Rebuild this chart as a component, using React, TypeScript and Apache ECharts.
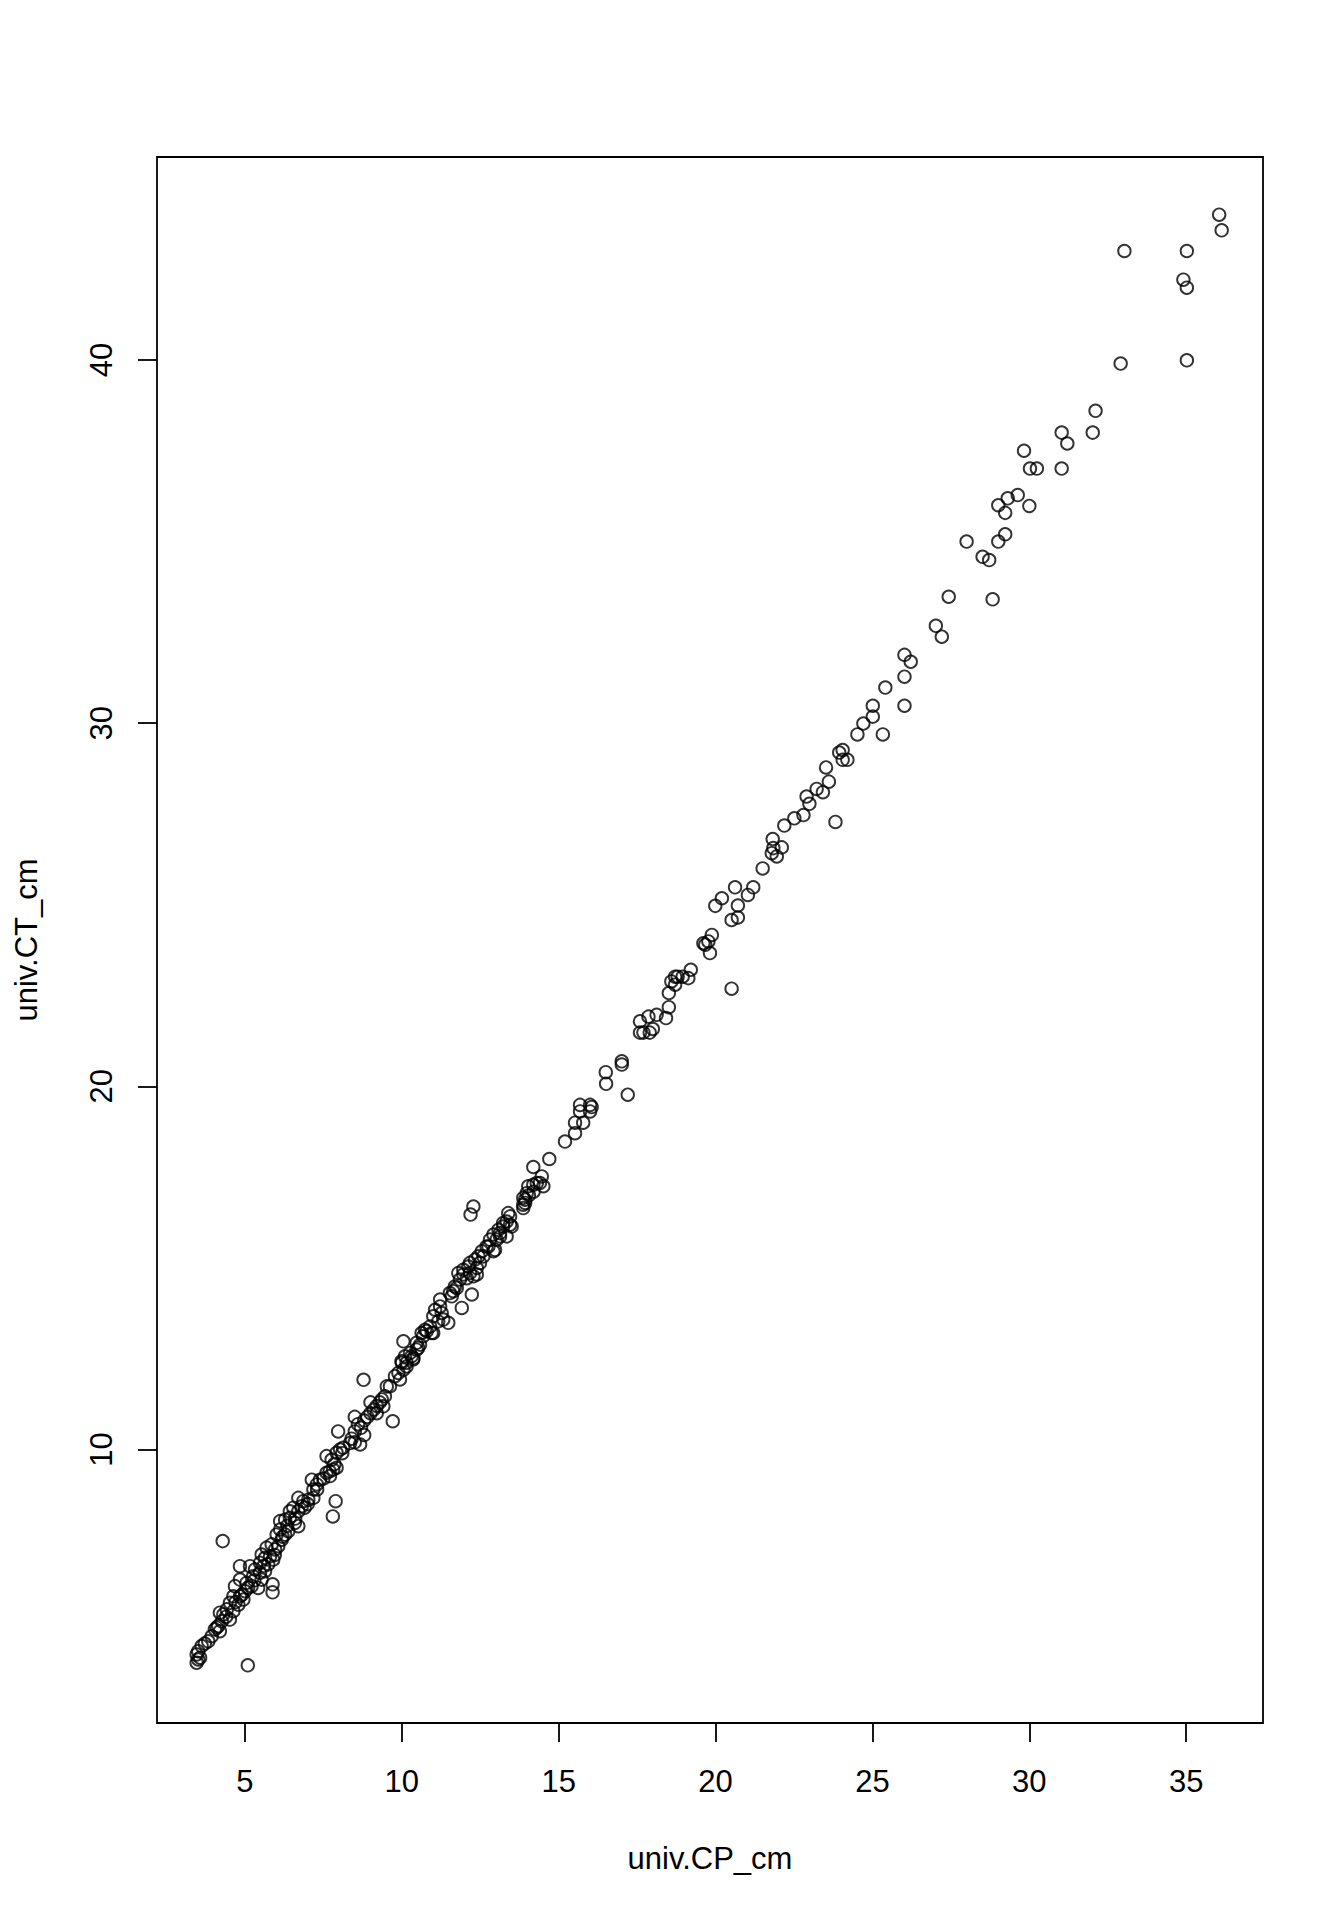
import { useEffect, useRef } from 'react';
import * as echarts from 'echarts';

// univ.CP_cm (x) and univ.CT_cm (y) in segments along the diagonal
const cpLow = [3.46, 3.51, 3.46, 3.51, 3.57, 3.62, 3.72, 3.83, 3.94, 4.04, 4.15, 4.2, 4.2, 4.26, 4.31, 4.42, 4.52, 4.63, 4.52, 4.63, 4.79, 4.84, 4.95, 4.68, 4.84, 5.0, 5.05, 5.21, 5.42, 5.26, 5.32, 5.48, 5.53, 5.64, 4.84, 5.16, 5.48, 5.53, 5.64, 5.74, 5.8, 5.9, 5.69, 5.85, 5.96, 6.06, 6.01, 6.12, 6.17, 6.28, 6.38, 6.12, 6.28, 6.43, 6.59, 6.7, 6.43, 6.54, 6.7, 6.81, 6.7, 6.86, 7.02, 7.18, 7.13, 7.18, 7.29, 7.39, 7.6, 7.71, 7.81, 7.92, 7.6, 7.76, 7.92, 8.03, 8.13, 8.35, 8.67];
const ctLow = [4.13, 4.22, 4.36, 4.45, 4.27, 4.59, 4.66, 4.72, 4.86, 5.05, 5.14, 5.0, 5.51, 5.27, 5.46, 5.6, 5.32, 5.55, 5.78, 5.96, 5.73, 5.96, 5.87, 6.24, 6.42, 6.1, 6.33, 6.24, 6.19, 6.51, 6.7, 6.61, 6.42, 6.65, 6.79, 6.79, 6.88, 7.11, 7.02, 6.84, 7.06, 6.97, 7.3, 7.39, 7.25, 7.34, 7.66, 7.8, 7.52, 7.66, 7.75, 8.03, 8.07, 8.12, 7.98, 7.89, 8.3, 8.4, 8.3, 8.44, 8.67, 8.58, 8.62, 8.67, 9.17, 8.9, 9.04, 9.17, 9.36, 9.27, 9.45, 9.5, 9.82, 9.72, 9.91, 10.0, 10.05, 10.18, 10.14];

const cpLowExtra = [4.1, 4.4, 4.7, 4.9, 5.1, 5.3, 5.6, 5.95, 6.2, 6.35, 6.6, 6.9, 7.0, 7.3, 7.5, 7.7, 7.85, 8.1, 4.29, 5.09, 5.88, 5.88, 7.89, 7.8, 7.97];
const ctLowExtra = [5.1, 5.4, 5.8, 6.0, 6.2, 6.4, 6.8, 7.1, 7.6, 7.9, 8.1, 8.4, 8.5, 8.9, 9.2, 9.4, 9.6, 9.9, 7.48, 4.06, 6.29, 6.07, 8.58, 8.16, 10.5];

const cpMid = [8.4, 8.5, 8.6, 8.5, 8.7, 8.8, 8.9, 9.0, 9.1, 9.2, 9.3, 9.0, 8.5, 8.8, 9.2, 8.78, 9.71, 9.41, 9.46, 9.36, 9.52, 9.62, 9.78, 9.89, 10.05, 9.94, 10.15, 9.99, 10.1, 10.26, 10.37, 10.47, 10.58, 10.05, 10.0, 10.15, 10.36, 10.31, 10.52, 10.47];
const ctMid = [10.3, 10.5, 10.7, 10.9, 10.6, 10.8, 10.9, 11.0, 11.1, 11.2, 11.3, 11.3, 10.2, 10.4, 11.0, 11.92, 10.78, 11.19, 11.47, 11.38, 11.74, 11.74, 12.02, 12.11, 12.2, 11.93, 12.29, 12.43, 12.57, 12.66, 12.52, 12.75, 12.89, 12.98, 12.39, 12.39, 12.48, 12.57, 12.8, 12.94];

const cpUpperMid = [10.68, 10.79, 10.9, 11.0, 10.63, 10.74, 10.95, 11.16, 11.0, 11.22, 11.06, 11.48, 11.22, 11.27, 11.32, 11.91, 11.53, 11.69, 11.85, 11.8, 11.96, 12.12, 12.23, 11.64, 11.59, 11.75, 12.07, 11.96, 12.28, 12.17, 12.17, 12.33, 12.44, 12.55, 12.39, 12.39, 12.49, 12.6, 12.7, 12.81, 12.92, 13.08, 12.97, 13.13, 12.76, 12.92, 13.02, 13.34, 13.13, 13.23, 13.34, 13.45, 13.5, 13.39, 13.45, 13.23, 12.28, 12.19];
const ctUpperMid = [13.12, 13.26, 13.39, 13.21, 13.21, 13.3, 13.21, 13.53, 13.67, 13.94, 13.85, 13.49, 14.13, 13.76, 13.58, 13.9, 14.31, 14.49, 14.68, 14.86, 14.95, 15.04, 14.27, 14.36, 14.22, 14.45, 14.72, 14.82, 14.77, 14.86, 15.14, 15.23, 15.32, 15.46, 14.82, 15.0, 15.14, 15.32, 15.59, 15.78, 15.92, 16.05, 15.5, 15.87, 15.59, 15.46, 15.78, 15.87, 15.96, 16.14, 16.28, 16.42, 16.14, 16.51, 16.19, 16.24, 16.69, 16.47];

const cpCenter = [13.87, 13.93, 13.98, 14.03, 14.19, 14.4, 14.51, 13.87, 13.93, 13.87, 14.05, 14.2, 14.46, 14.3, 14.19, 14.7, 15.2, 15.52, 15.78, 15.52, 15.68, 16.0, 15.68, 16.0, 16.05, 16.51, 16.5, 17.01, 17.01, 17.2];
const ctCenter = [16.74, 16.88, 17.06, 17.25, 17.29, 17.34, 17.25, 16.93, 16.79, 16.65, 17.0, 17.1, 17.52, 17.34, 17.78, 18.0, 18.48, 19.0, 19.0, 18.71, 19.49, 19.49, 19.31, 19.31, 19.43, 20.07, 20.39, 20.69, 20.6, 19.77];

const cpHighMid = [17.59, 17.59, 17.7, 17.9, 17.86, 18.0, 18.12, 18.42, 18.51, 18.51, 18.59, 18.71, 18.79, 18.95, 18.71, 19.21, 19.13, 19.61, 19.77, 19.88, 19.82, 19.67, 20.51, 19.99, 20.2, 20.62, 20.71, 20.51, 20.71, 21.03, 21.2, 21.5];
const ctHighMid = [21.79, 21.48, 21.48, 21.48, 21.92, 21.58, 21.97, 21.88, 22.18, 22.57, 22.89, 23.02, 23.02, 23.02, 22.8, 23.21, 22.98, 23.94, 23.99, 24.17, 23.67, 23.9, 22.69, 24.97, 25.18, 25.48, 24.98, 24.58, 24.65, 25.27, 25.48, 26.0];

const cpHigh = [21.82, 21.84, 22.11, 21.95, 21.79, 22.19, 22.51, 22.8, 22.9, 22.99, 23.22, 23.42, 23.52, 23.61, 23.82, 23.94, 24.05, 24.05, 24.2, 24.52, 24.71, 25.01, 25.01, 25.33, 25.41, 26.02, 26.02, 26.02, 26.22, 27.02, 27.21, 27.43, 28.83];
const ctHigh = [26.81, 26.56, 26.58, 26.33, 26.42, 27.18, 27.38, 27.47, 27.98, 27.78, 28.19, 28.1, 28.78, 28.39, 27.28, 29.19, 29.26, 28.99, 28.99, 29.69, 29.99, 30.48, 30.18, 29.69, 30.98, 30.48, 31.28, 31.88, 31.69, 32.68, 32.38, 33.48, 33.41];

const cpTop = [28.51, 28.72, 28.0, 29.01, 29.23, 29.01, 29.23, 29.31, 29.63, 30.0, 29.83, 30.02, 30.24, 31.03, 31.03, 31.21, 32.02, 32.11, 32.91, 35.02, 33.03, 35.02, 34.91, 35.02, 36.05, 36.13];
const ctTop = [34.58, 34.49, 35.0, 35.0, 35.2, 36.0, 35.79, 36.19, 36.28, 35.98, 37.5, 37.01, 37.01, 37.01, 38.0, 37.7, 38.0, 38.6, 39.9, 39.99, 43.0, 43.0, 42.21, 41.99, 44.0, 43.57];

const xTicks = [5, 10, 15, 20, 25, 30, 35];
const yTicks = [10, 20, 30, 40];

const univCP = [...cpLow, ...cpLowExtra, ...cpMid, ...cpUpperMid, ...cpCenter, ...cpHighMid, ...cpHigh, ...cpTop];
const univCT = [...ctLow, ...ctLowExtra, ...ctMid, ...ctUpperMid, ...ctCenter, ...ctHighMid, ...ctHigh, ...ctTop];

const FONT = '"Liberation Sans", Arial, sans-serif';

export default function App() {
  const chartRef = useRef<HTMLDivElement | null>(null);

  useEffect(() => {
    if (!chartRef.current) return;
    const chart = echarts.init(chartRef.current, undefined, { renderer: 'svg' });

    const points = univCP.map((cp, i) => [cp, univCT[i]]);

    chart.setOption({
      animation: false,
      backgroundColor: '#fff',
      textStyle: { fontFamily: FONT, color: '#000' },
      grid: {
        left: 157,
        right: 81,
        top: 157,
        bottom: 197,
        show: true,
        borderColor: '#000',
        borderWidth: 1.8,
        backgroundColor: 'transparent',
      },
      xAxis: {
        type: 'value',
        min: 2.196,
        max: 37.447,
        name: 'univ.CP_cm',
        nameLocation: 'middle',
        nameGap: 120,
        nameTextStyle: { fontSize: 31, color: '#000', fontFamily: FONT },
        axisLine: { show: false },
        splitLine: { show: false },
        axisTick: {
          show: true,
          length: 19,
          customValues: xTicks,
          lineStyle: { color: '#000', width: 1.8 },
        },
        axisLabel: {
          customValues: xTicks,
          fontSize: 31,
          color: '#000',
          fontFamily: FONT,
          margin: 43,
        },
      },
      yAxis: {
        type: 'value',
        min: 2.472,
        max: 45.588,
        name: 'univ.CT_cm',
        nameLocation: 'middle',
        nameGap: 115,
        nameTextStyle: { fontSize: 31, color: '#000', fontFamily: FONT },
        axisLine: { show: false },
        splitLine: { show: false },
        axisTick: {
          show: true,
          length: 19,
          customValues: yTicks,
          lineStyle: { color: '#000', width: 1.8 },
        },
        axisLabel: {
          customValues: yTicks,
          rotate: 90,
          fontSize: 31,
          color: '#000',
          fontFamily: FONT,
          margin: 40,
        },
      },
      series: [
        {
          type: 'scatter',
          data: points,
          symbol: 'circle',
          symbolSize: 12.5,
          silent: true,
          itemStyle: {
            color: 'transparent',
            borderColor: '#000',
            borderWidth: 1.9,
          },
        },
      ],
    });

    return () => {
      chart.dispose();
    };
  }, []);

  return (
    <div
      ref={chartRef}
      style={{ position: 'absolute', left: 0, top: 0, width: 1344, height: 1920, background: '#fff' }}
    />
  );
}
